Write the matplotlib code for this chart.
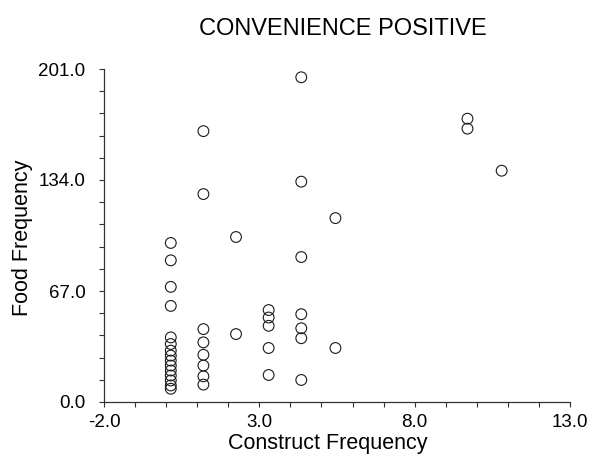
import matplotlib
matplotlib.use("Agg")
import matplotlib.pyplot as plt
from matplotlib.ticker import MultipleLocator, FormatStrFormatter

plt.rcParams['font.family'] = ['Liberation Sans', 'DejaVu Sans']

# construct frequency (x) and food frequency (y) for each observation
construct_freq = (
    [0.15] * 15
    + [1.2] * 8
    + [2.25] * 2
    + [3.3] * 5
    + [4.35] * 7
    + [5.45] * 2
    + [9.7] * 2
    + [10.8]
)
food_freq = (
    [96, 85.5, 69.5, 58, 39, 35, 31, 28, 25, 22, 19, 16, 13, 10, 8]
    + [163.5, 125.5, 44, 36, 28.5, 22, 15.5, 10.5]
    + [99.6, 41]
    + [55.5, 51, 46, 32.6, 16.3]
    + [196, 133, 87.5, 53, 44.5, 38.5, 13.3]
    + [111, 32.6]
    + [171, 165]
    + [139.6]
)

title = "CONVENIENCE POSITIVE"
x_label = "Construct Frequency"
y_label = "Food Frequency"
x_major = [-2.0, 3.0, 8.0, 13.0]
y_major = [0.0, 67.0, 134.0, 201.0]

W, H = 597, 466
fig = plt.figure(figsize=(W / 100, H / 100), dpi=100)
ax = fig.add_axes([104 / W, 1 - 402 / H, (570 - 104) / W, (402 - 69) / H])

ax.scatter(construct_freq, food_freq, s=60, facecolors='none',
           edgecolors='#1a1a1a', linewidths=0.8, zorder=3, clip_on=False)

ax.set_xlim(-2, 13)
ax.set_ylim(0, 201)
ax.set_xticks(x_major)
ax.set_yticks(y_major)
ax.xaxis.set_minor_locator(MultipleLocator(1))
ax.yaxis.set_minor_locator(MultipleLocator(13.4))
ax.xaxis.set_major_formatter(FormatStrFormatter('%.1f'))
ax.yaxis.set_major_formatter(FormatStrFormatter('%.1f'))

for s in ('top', 'right'):
    ax.spines[s].set_visible(False)
for s in ('left', 'bottom'):
    ax.spines[s].set_linewidth(0.9)
    ax.spines[s].set_color('#333333')

ax.tick_params(axis='both', which='both', direction='out', length=3.5,
               width=0.8, color='#333333')
ax.tick_params(axis='x', which='major', labelsize=13.5, pad=5)
ax.tick_params(axis='y', which='major', labelsize=13.5, pad=10)

fig.text(343 / W, 1 - 29 / H, title, ha='center', va='center', fontsize=17)
fig.text(328 / W, 1 - 443 / H, x_label, ha='center', va='center', fontsize=15.5)
fig.text(23 / W, 1 - 238 / H, y_label, ha='center', va='center',
         fontsize=15.5, rotation=90)

fig.savefig("out.png", dpi=100)
